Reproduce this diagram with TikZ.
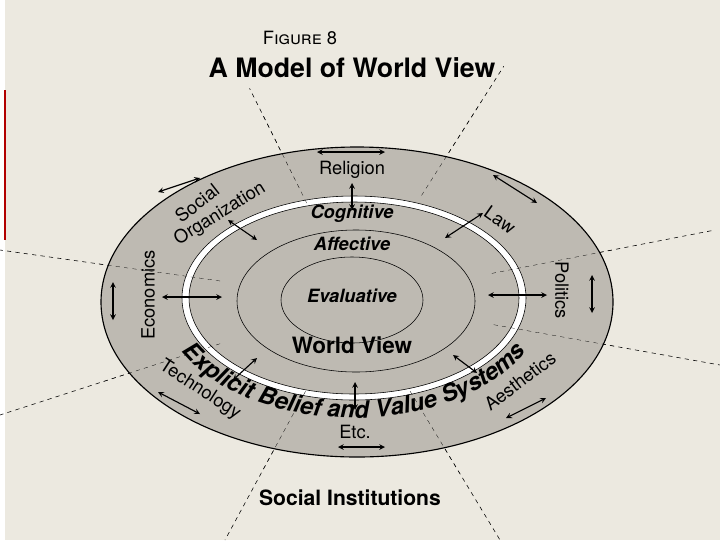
\documentclass[tikz,border=0pt]{standalone}
\usepackage{fontspec}
\setmainfont{TeX Gyre Heros}
\usetikzlibrary{decorations.text}
\definecolor{paper}{RGB}{236,233,224}
\definecolor{band}{RGB}{190,186,178}
\begin{document}
\begin{tikzpicture}[x=0.025cm, y=-0.025cm,
    lbl/.style={font=\fontsize{13}{13}\selectfont},
    inner/.style={font=\fontsize{13}{13}\selectfont\bfseries\itshape}]
    \useasboundingbox[fill=paper] (0,0) rectangle (720,540);
    \fill[white] (0,0) rectangle (5,540);
    \draw[red!70!black, line width=1.2pt] (5,90) -- (5,240);

    \node (fig) at (300,38) {\fontsize{13}{13}\selectfont F\textsc{igure} 8};
    \node (title) at (352,68) {\fontsize{19}{19}\selectfont\bfseries A Model of World View};

    % dashed spokes
    \foreach \dx/\dy/\e in {-127/-255/0.83, 175/-275/0.85, 360/-70/1, 365/65/1, 145/240/1, -130/240/1, -355/115/1, -355/-50/1}
    {
        \draw[dashed, thin] (355+0.38*\dx,300+0.38*\dy) -- (355+\e*\dx,300+\e*\dy);
    }

    \fill[band] (357,302) ellipse (256 and 155);
    \draw[thick] (357,302) ellipse (256 and 155);
    \fill[white] (354,298) ellipse (172 and 102);
    \draw (354,298) ellipse (172 and 102);
    \fill[band] (354,298) ellipse (165 and 96);
    \draw (354,298) ellipse (165 and 96);
    \draw (356,301) ellipse (119 and 71);
    \draw (352,300) ellipse (71 and 43);

    \foreach \dx/\dy in {-127/-255, 175/-275, 360/-70, 365/65, 145/240, -130/240, -355/115, -355/-50}
    {
        \draw[dashed, very thin] (355+0.38*\dx,300+0.38*\dy) -- (355+0.72*\dx,300+0.72*\dy);
    }

    % arrows across the white ring
    \foreach \ax/\ay/\bx/\by in {352/183/352/210, 162/297/222/297, 488/295/547/295,
        228/220/257/240, 483/213/445/238, 257/358/233/380, 453/355/477/373, 355/382/355/410}
    {
        \draw[<->, >=stealth, thick] (\ax,\ay) -- (\bx,\by);
    }
    % arrows in the outer band
    \foreach \ax/\ay/\bx/\by in {317/152/385/152, 158/192/200/178, 493/175/537/203,
        592/275/592/313, 113/282/113/320, 158/392/200/414, 338/447/385/447, 506/418/546/398}
    {
        \draw[<->, >=stealth, thick] (\ax,\ay) -- (\bx,\by);
    }

    \node[lbl] (rel) at (352,170) {Religion};
    \node[lbl, rotate=38] (soc) at (197,203) {Social};
    \node[lbl, rotate=32] (org) at (220,214) {Organization};
    \node[lbl, rotate=-35] (law) at (500,220) {Law};
    \node[lbl, rotate=90] (eco) at (148,295) {Economics};
    \node[lbl, rotate=-90] (pol) at (562,290) {Politics};
    \node[lbl, rotate=-33] (tec) at (200,390) {Technology};
    \node[lbl] (etc) at (355,432) {Etc.};
    \node[lbl, rotate=37] (aes) at (520,381) {Aesthetics};

    \node[inner] (cog) at (352,214) {Cognitive};
    \node[inner] (aff) at (352,244) {Affective};
    \node[inner] (eva) at (352,296) {Evaluative};
    \node (wv) at (352,345) {\fontsize{16}{16}\selectfont\bfseries World View};

    \path[decorate, decoration={text along path, text align=center,
        text={|\fontsize{17}{17}\selectfont\bfseries\itshape|Explicit Belief and Value Systems}}]
        (354,296) ++(178:194 and 122) arc (178:2:194 and 122);

    \node (si) at (350,498) {\fontsize{15}{15}\selectfont\bfseries Social Institutions};
\end{tikzpicture}
\end{document}
